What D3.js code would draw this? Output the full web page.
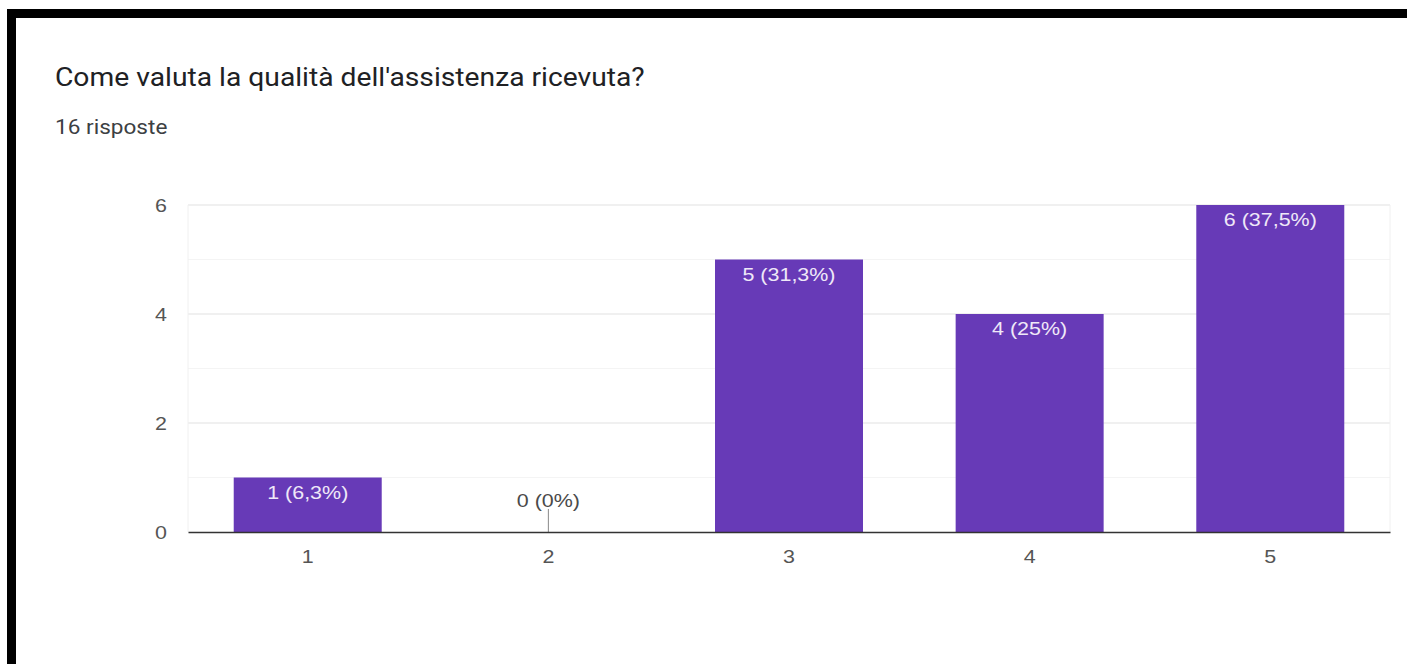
<!DOCTYPE html>
<html><head><meta charset="utf-8">
<script src="https://cdn.jsdelivr.net/npm/d3@7"></script>
<style>html,body{margin:0;padding:0;background:#fff;}svg{display:block;}</style>
</head><body>
<script>
const categories = ["1","2","3","4","5"];
const counts = [1,0,5,4,6];
const valueLabels = ["1 (6,3%)","0 (0%)","5 (31,3%)","4 (25%)","6 (37,5%)"];
const yTicks = [0,2,4,6];
const yMinor = [1,3,5];
const titleText = "Come valuta la qualità dell'assistenza ricevuta?";
const subtitleText = "16 risposte";

(function(){
const W = 1407, H = 664;
const SX = 1.13; // horizontal stretch of the photographed screen
const svg = d3.select("body").append("svg").attr("width", W).attr("height", H);
svg.append("rect").attr("width", W).attr("height", H).attr("fill", "#fff");

// black photo border
svg.append("rect").attr("x", 7).attr("y", 9).attr("width", W - 7).attr("height", 9).attr("fill", "#000");
svg.append("rect").attr("x", 7).attr("y", 9).attr("width", 9).attr("height", H - 9).attr("fill", "#000");

svg.append("text").attr("transform", `translate(55,86) scale(${SX},1)`).text(titleText)
  .attr("font-family", "Roboto, Arial, sans-serif").attr("font-size", 25).attr("fill", "#202124");
svg.append("text").attr("transform", `translate(55,134) scale(${SX},1)`).text(subtitleText)
  .attr("font-family", "Roboto, Arial, sans-serif").attr("font-size", 20).attr("fill", "#3c4043");

const pl = 188, pr = 1390, pt = 205, pb = 532;
const x = d3.scaleBand().domain(categories).range([pl, pr]).paddingInner(0.385).paddingOuter(0.19);
const y = d3.scaleLinear().domain([0, 6]).range([pb, pt]);

const g = svg.append("g");
g.selectAll(".minor").data(yMinor).join("line")
  .attr("x1", pl).attr("x2", pr).attr("y1", d => y(d)).attr("y2", d => y(d))
  .attr("stroke", "#f4f4f4").attr("stroke-width", 1);
g.selectAll(".major").data(yTicks.filter(d => d > 0)).join("line")
  .attr("x1", pl).attr("x2", pr).attr("y1", d => y(d)).attr("y2", d => y(d))
  .attr("stroke", "#ebebeb").attr("stroke-width", 1.5);
g.append("line").attr("x1", pl).attr("x2", pl).attr("y1", pt).attr("y2", pb).attr("stroke", "#f0f0f0");
g.append("line").attr("x1", pr).attr("x2", pr).attr("y1", pt).attr("y2", pb).attr("stroke", "#f0f0f0");

g.selectAll(".bar").data(counts).join("rect")
  .attr("x", (d, i) => x(categories[i])).attr("width", x.bandwidth())
  .attr("y", d => y(d)).attr("height", d => y(0) - y(d))
  .attr("fill", "#673ab7");

g.selectAll(".zl").data(counts.map((d, i) => ({d, i})).filter(o => o.d === 0)).join("line")
  .attr("x1", o => x(categories[o.i]) + x.bandwidth() / 2).attr("x2", o => x(categories[o.i]) + x.bandwidth() / 2)
  .attr("y1", y(0) - 23).attr("y2", y(0)).attr("stroke", "#888").attr("stroke-width", 1);

g.selectAll(".vl").data(counts).join("text")
  .attr("transform", (d, i) => `translate(${x(categories[i]) + x.bandwidth() / 2},${d === 0 ? y(0) - 25 : y(d) + 21}) scale(${SX},1)`)
  .attr("text-anchor", "middle")
  .attr("font-family", "Arial, 'Liberation Sans', sans-serif").attr("font-size", 19)
  .attr("fill", d => d === 0 ? "#4a4a4a" : "#efe8f8")
  .text((d, i) => valueLabels[i]);

const xAxis = d3.axisBottom(x).tickSize(0).tickPadding(18);
const xa = svg.append("g").attr("transform", `translate(0,${pb})`).call(xAxis);
xa.select(".domain").attr("stroke", "#333").attr("stroke-width", 1.5);
xa.selectAll("text").attr("font-family", "Arial, 'Liberation Sans', sans-serif").attr("font-size", 19)
  .attr("fill", "#555").attr("transform", `scale(${SX},1)`);

const yPad = 21;
const yAxis = d3.axisLeft(y).tickValues(yTicks).tickSize(0).tickPadding(yPad).tickFormat(d3.format("d"));
const ya = svg.append("g").attr("transform", `translate(${pl},0)`).call(yAxis);
ya.select(".domain").remove();
ya.selectAll("text").attr("font-family", "Arial, 'Liberation Sans', sans-serif").attr("font-size", 19)
  .attr("fill", "#555").attr("x", -yPad / SX).attr("transform", `scale(${SX},1)`);
})();
</script>
</body></html>
